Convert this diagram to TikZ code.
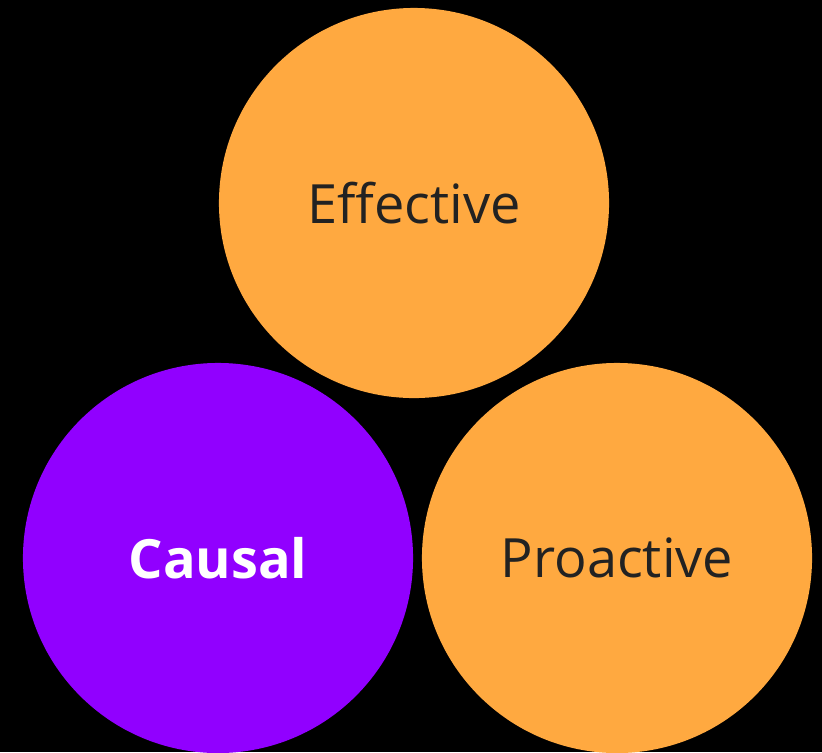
\documentclass[tikz,border=0pt]{standalone}
\usepackage{fontspec}
\setmainfont{Open Sans}
\definecolor{circorange}{HTML}{FFA940}
\definecolor{circpurple}{HTML}{9100FF}
\definecolor{darktext}{HTML}{222222}

\def\circsize{9.75cm}

\begin{document}
\begin{tikzpicture}[x=0.025cm,y=-0.025cm]
		\tikzstyle{bubble}=[circle,minimum size=\circsize,inner sep=0pt,font=\fontsize{38.5}{46}\selectfont]
		\tikzstyle{plain bubble}=[bubble,fill=circorange,text=darktext];
		\tikzstyle{main bubble}=[bubble,fill=circpurple,text=white,font=\fontsize{38.5}{46}\selectfont\bfseries];

			% Background and picture size
		\fill[black] (0,0) rectangle (822,752);
		\useasboundingbox (0,0) rectangle (822,752);

			% Draw the three circles
		\node[plain bubble] (effective) at (414,203) {Effective};
		\node[main bubble] (causal) at (218,558) {Causal};
		\node[plain bubble] (proactive) at (617,558) {Proactive};
\end{tikzpicture}
\end{document}
